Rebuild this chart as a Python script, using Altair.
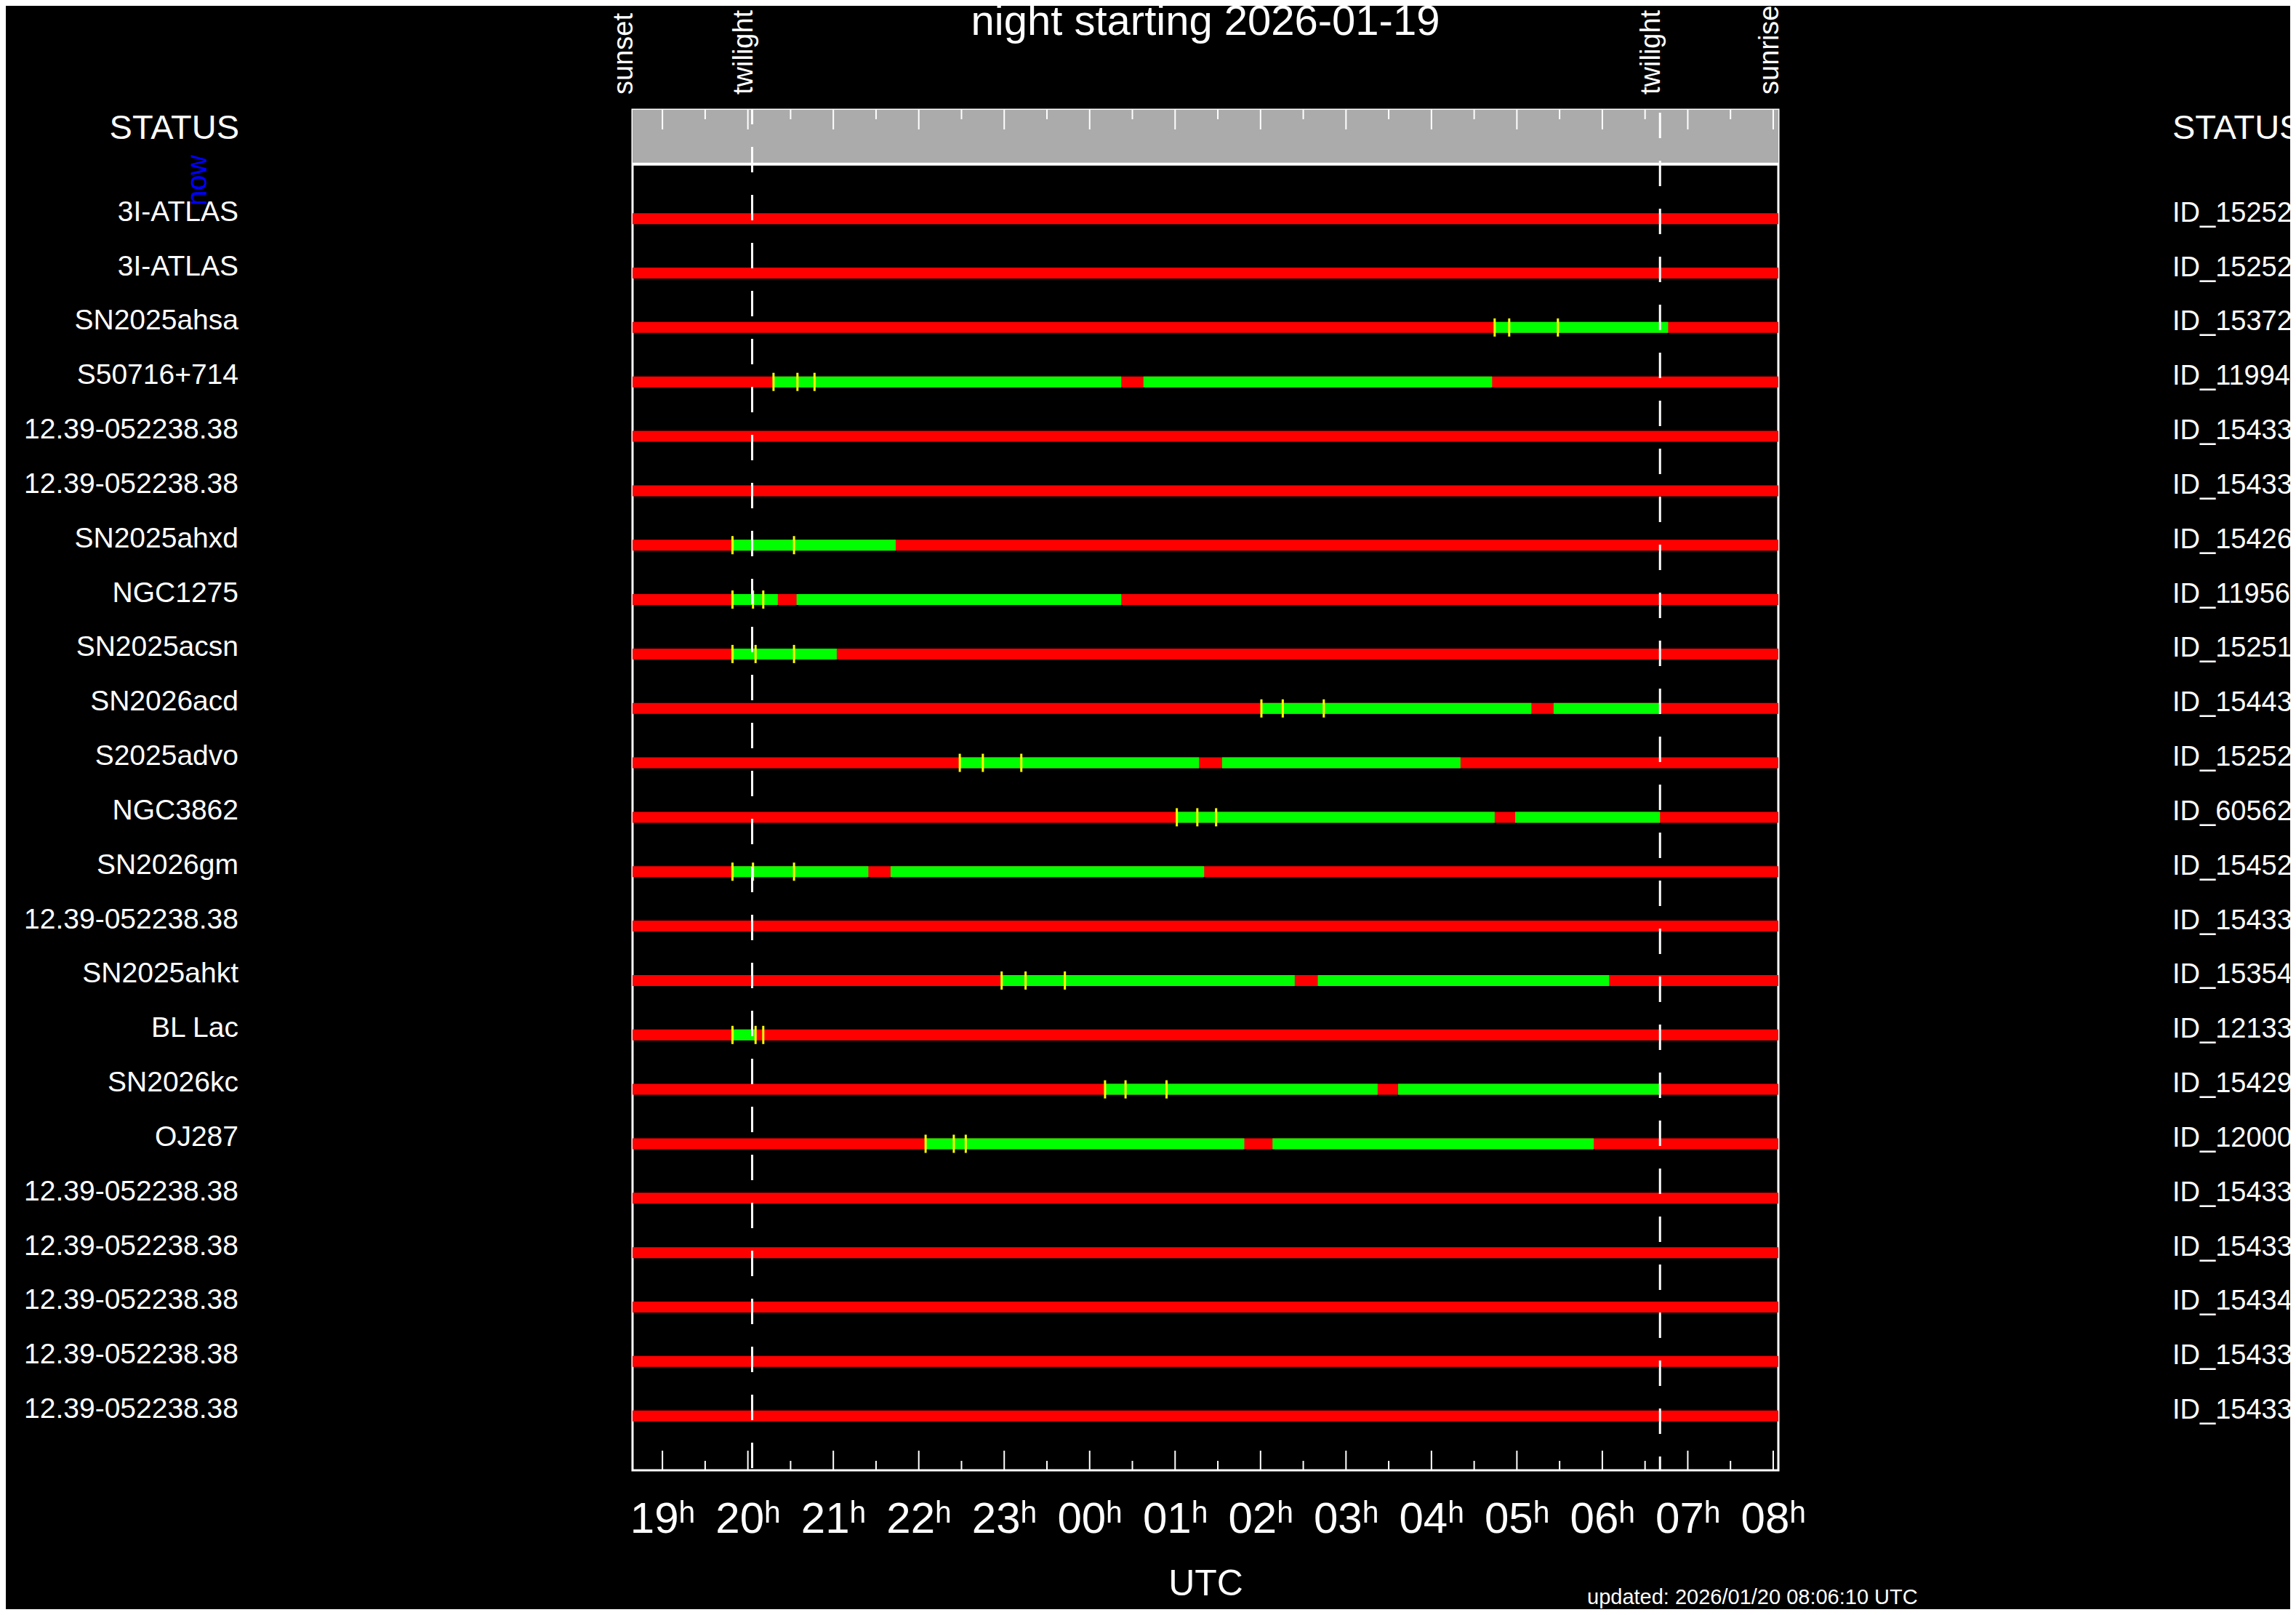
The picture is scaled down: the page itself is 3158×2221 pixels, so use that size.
import altair as alt
import pandas as pd

FONT = "Liberation Sans, Arial, Helvetica, sans-serif"

# ---------------- data (UTC hours; values > 24 are after midnight) ----------------
SUNSET = 18.65
TWILIGHT_EVE = 20.05
TWILIGHT_MORN = 30.675
SUNRISE = 32.06

TITLE = "night starting 2026-01-19"
UPDATED = "updated: 2026/01/20 08:06:10 UTC"

event_labels = ["sunset", "twilight", "twilight", "sunrise"]
event_times = [SUNSET, TWILIGHT_EVE, TWILIGHT_MORN, SUNRISE]

hour_ticks = list(range(19, 33))
half_hour_ticks = [19.5, 20.5, 21.5, 22.5, 23.5, 24.5, 25.5, 26.5, 27.5, 28.5, 29.5, 30.5, 31.5]

object_names = [
    "3I-ATLAS", "3I-ATLAS", "SN2025ahsa", "S50716+714", "12.39-052238.38",
    "12.39-052238.38", "SN2025ahxd", "NGC1275", "SN2025acsn", "SN2026acd",
    "S2025advo", "NGC3862", "SN2026gm", "12.39-052238.38", "SN2025ahkt",
    "BL Lac", "SN2026kc", "OJ287", "12.39-052238.38", "12.39-052238.38",
    "12.39-052238.38", "12.39-052238.38", "12.39-052238.38",
]

object_ids = [
    "ID_15252", "ID_15252", "ID_15372", "ID_11994", "ID_15433",
    "ID_15433", "ID_15426", "ID_11956", "ID_15251", "ID_15443",
    "ID_15252", "ID_60562", "ID_15452", "ID_15433", "ID_15354",
    "ID_12133", "ID_15429", "ID_12000", "ID_15433", "ID_15433",
    "ID_15434", "ID_15433", "ID_15433",
]

# observable (green) windows per object
green_windows = [
    [], [],
    [(28.74, 30.77)],
    [(20.30, 24.37), (24.63, 28.71)],
    [], [],
    [(19.82, 21.73)],
    [(19.82, 20.35), (20.57, 24.37)],
    [(19.82, 21.04)],
    [(26.01, 29.17), (29.43, 30.675)],
    [(22.48, 25.28), (25.55, 28.34)],
    [(25.02, 28.74), (28.98, 30.675)],
    [(19.82, 21.41), (21.67, 25.34)],
    [],
    [(22.97, 26.40), (26.67, 30.08)],
    [(19.82, 20.09)],
    [(24.18, 27.37), (27.61, 30.675)],
    [(22.08, 25.81), (26.14, 29.90)],
    [], [], [], [], [],
]

# yellow start markers per object
start_marks = [
    [], [],
    [28.74, 28.91, 29.48],
    [20.30, 20.58, 20.78],
    [], [],
    [19.82, 20.05, 20.54],
    [19.82, 20.06, 20.18],
    [19.82, 20.09, 20.54],
    [26.01, 26.26, 26.74],
    [22.48, 22.75, 23.20],
    [25.02, 25.26, 25.48],
    [19.82, 20.06, 20.54],
    [],
    [22.97, 23.25, 23.71],
    [19.82, 20.09, 20.18],
    [24.18, 24.42, 24.90],
    [22.08, 22.41, 22.55],
    [], [], [], [], [],
]

# ---------------- tables ----------------
rows = pd.DataFrame({
    "row": list(range(len(object_names))),
    "name": object_names,
    "oid": object_ids,
    "start": SUNSET,
    "end": SUNRISE,
})
green = pd.DataFrame(
    [{"row": i, "start": s, "end": e} for i, w in enumerate(green_windows) for s, e in w]
)
marks = pd.DataFrame(
    [{"row": i, "t": t} for i, ts in enumerate(start_marks) for t in ts]
)
events = pd.DataFrame({"label": event_labels, "t": event_times})
band = pd.DataFrame({"x": [SUNSET], "x2": [SUNRISE], "y": [-2], "y2": [-1]})
majors = pd.DataFrame({"t": hour_ticks})
minors = pd.DataFrame({"t": half_hour_ticks})

W, H = 1576, 1871

xs = alt.Scale(domain=[SUNSET, SUNRISE], nice=False, zero=False)
ys = alt.Scale(domain=[-2, 23], reverse=True, nice=False, zero=False)

x_axis = alt.Axis(
    values=hour_ticks,
    labelExpr="format(datum.value % 24, '02d') + 'ʰ'",
    domain=False, ticks=False, tickSize=0, grid=False,
    labelFont=FONT, labelFontSize=60, labelColor="white",
    labelPadding=85, labelBaseline="alphabetic",
    labelFlush=False, labelOverlap=False,
    title="UTC", titleFont=FONT, titleFontSize=50, titleFontWeight="normal",
    titleColor="white", titleX=W / 2, titleY=171,
    titleAlign="center", titleBaseline="alphabetic",
)


def X(field):
    return alt.X(field, scale=xs, axis=x_axis)


def Y(field):
    return alt.Y(field, scale=ys, axis=None)


gray_band = alt.Chart(band).mark_rect(color="#ABABAB").encode(
    x=X("x:Q"), x2="x2:Q", y=Y("y:Q"), y2="y2:Q",
)
band_line = alt.Chart(band).mark_rule(color="white", strokeWidth=4).encode(
    x=X("x:Q"), x2="x2:Q", y=Y("y2:Q"),
)

top_major = alt.Chart(majors).mark_rule(color="white", strokeWidth=2).encode(
    x=X("t:Q"), y=alt.value(0), y2=alt.value(27))
top_minor = alt.Chart(minors).mark_rule(color="white", strokeWidth=2).encode(
    x=X("t:Q"), y=alt.value(0), y2=alt.value(13))
bot_major = alt.Chart(majors).mark_rule(color="white", strokeWidth=2).encode(
    x=X("t:Q"), y=alt.value(H), y2=alt.value(H - 27))
bot_minor = alt.Chart(minors).mark_rule(color="white", strokeWidth=2).encode(
    x=X("t:Q"), y=alt.value(H), y2=alt.value(H - 13))

red_bars = alt.Chart(rows).mark_rule(color="#FF0000", strokeWidth=15, strokeCap="butt").encode(
    x=X("start:Q"), x2="end:Q", y=Y("row:Q"),
)
green_bars = alt.Chart(green).mark_rule(color="#00FF00", strokeWidth=15, strokeCap="butt").encode(
    x=X("start:Q"), x2="end:Q", y=Y("row:Q"),
)
yellow = alt.Chart(marks).mark_tick(color="#FFFF00", orient="vertical", size=25, thickness=3, opacity=1).encode(
    x=X("t:Q"), y=Y("row:Q"),
)

twi_eve = alt.Chart(events[events.t == TWILIGHT_EVE]).mark_rule(
    color="white", strokeWidth=3, strokeDash=[35, 31], strokeDashOffset=15
).encode(x=X("t:Q"), y=alt.value(0), y2=alt.value(H))
twi_morn = alt.Chart(events[events.t == TWILIGHT_MORN]).mark_rule(
    color="white", strokeWidth=3, strokeDash=[35, 31], strokeDashOffset=62
).encode(x=X("t:Q"), y=alt.value(0), y2=alt.value(H))

event_text = alt.Chart(events).mark_text(
    angle=270, align="left", baseline="alphabetic", font=FONT, fontSize=38, color="white"
).encode(x=X("t:Q"), y=alt.value(-21), text="label:N")

names_text = alt.Chart(rows).mark_text(
    align="right", baseline="alphabetic", dy=3, font=FONT, fontSize=39, color="white"
).encode(x=alt.value(-542), y=Y("row:Q"), text="name:N")
ids_text = alt.Chart(rows).mark_text(
    align="left", baseline="alphabetic", dy=4, font=FONT, fontSize=38, color="white"
).encode(x=alt.value(W + 542), y=Y("row:Q"), text="oid:N")

hdr = pd.DataFrame({"label": ["STATUS"]})
status_left = alt.Chart(hdr).mark_text(
    align="right", baseline="alphabetic", font=FONT, fontSize=47, color="white"
).encode(x=alt.value(-541), y=alt.value(40), text="label:N")
status_right = alt.Chart(hdr).mark_text(
    align="left", baseline="alphabetic", font=FONT, fontSize=47, color="white"
).encode(x=alt.value(W + 542), y=alt.value(40), text="label:N")

title_text = alt.Chart(pd.DataFrame({"label": [TITLE]})).mark_text(
    align="center", baseline="alphabetic", font=FONT, fontSize=58, color="white"
).encode(x=alt.value(W / 2), y=alt.value(-103), text="label:N")

updated_text = alt.Chart(pd.DataFrame({"label": [UPDATED]})).mark_text(
    align="left", baseline="alphabetic", font=FONT, fontSize=29, color="white"
).encode(x=alt.value(1313), y=alt.value(2055), text="label:N")

now_text = alt.Chart(pd.DataFrame({"label": ["now"]})).mark_text(
    angle=270, align="left", baseline="alphabetic", font=FONT, fontSize=38, color="#0000FF"
).encode(x=alt.value(-586), y=alt.value(132), text="label:N")

chart = alt.layer(
    gray_band, top_major, top_minor, band_line,
    red_bars, green_bars, yellow,
    twi_eve, twi_morn,
    bot_major, bot_minor,
    event_text, names_text, ids_text, status_left, status_right,
    title_text, updated_text, now_text,
).properties(
    width=W, height=H,
    autosize=alt.AutoSizeParams(type="none"),
    padding={"left": 862, "top": 143, "right": 704, "bottom": 191},
).configure(
    background="black",
).configure_view(
    stroke="white", strokeWidth=3,
)

chart.save("out.html", embed_options={"renderer": "svg", "actions": False})
